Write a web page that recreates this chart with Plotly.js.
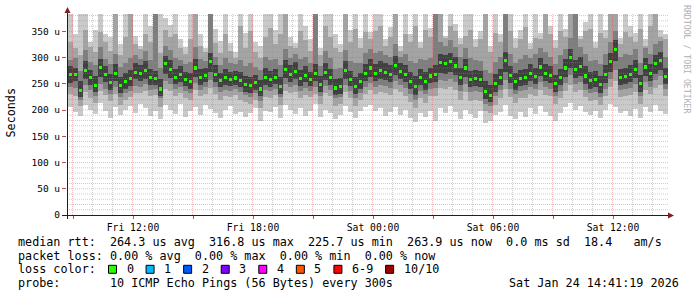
<!DOCTYPE html>
<html><head><meta charset="utf-8">
<script src="https://cdn.plot.ly/plotly-3.0.1.min.js"></script>
<style>html,body{margin:0;padding:0;background:#fff}#chart{width:697px;height:297px}</style>
</head><body><div id="chart"></div>
<script>
// ---- data ----
const startTime = Date.UTC(2026, 0, 23, 8, 45, 0);   // first consolidated step
const stepMinutes = 15;

const median = [267,268,238,276,262,247,281,268,252,270,247,254,260,272,270,275,262,260,240,288,
 278,262,268,258,255,280,262,266,293,268,256,262,258,261,256,248,246,252,240,262,
 258,262,245,278,268,274,260,266,258,270,248,272,262,242,245,275,258,245,255,270,
 280,270,275,272,268,285,273,268,255,245,262,255,265,268,290,288,292,284,262,280,
 258,260,258,236,228,250,262,294,266,254,260,262,270,264,282,270,266,250,262,280,
 300,278,283,265,256,258,248,268,292,316,262,264,268,278,250,282,270,288,295,264];

const pingMin = [205,196,188,210,200,192,214,198,185,206,190,200,208,195,212,203,188,198,182,210,
 200,192,212,186,198,205,190,210,202,194,184,200,208,192,196,186,194,204,180,198,
 196,206,184,210,200,192,204,188,198,212,186,200,194,182,190,208,196,184,198,205,
 210,198,204,188,196,206,190,200,185,178,194,186,198,180,204,194,208,196,182,200,
 192,184,198,176,180,190,196,210,188,182,196,186,204,192,208,196,188,180,194,206,
 214,200,208,196,190,198,184,200,212,206,194,198,188,202,184,206,196,210,198,192];

const pingMax = [390,345,390,390,330,352,390,345,340,390,326,390,390,342,322,390,360,390,390,375,
 362,390,336,320,390,390,344,318,390,355,332,390,328,310,390,346,390,330,322,390,
 390,352,390,390,340,328,390,360,335,390,318,390,390,344,326,390,352,390,338,390,
 348,390,390,336,358,390,322,390,345,390,330,390,356,390,390,342,390,364,338,390,
 390,336,350,390,322,390,345,390,390,338,352,390,328,390,346,390,360,334,390,355,
 390,390,342,368,390,330,390,352,390,390,338,390,360,346,390,335,390,390,352,345];

const ping2Lo = [230,226,208,234,222,214,236,228,218,230,210,220,224,232,232,236,226,228,206,240,
 236,226,232,222,220,238,226,230,242,230,220,226,224,228,220,216,212,220,204,224,
 222,228,210,236,232,234,222,228,224,230,212,232,226,208,212,234,222,208,220,230,
 238,230,234,232,228,240,234,226,216,204,222,214,226,226,242,240,244,238,220,234,
 218,220,218,198,194,210,222,240,224,214,222,222,230,226,238,228,226,212,222,236,
 248,234,238,224,218,220,210,226,244,256,224,226,228,234,212,238,230,242,248,226];

const ping2Hi = [330,318,305,352,320,310,348,330,312,390,305,340,390,325,316,345,330,390,308,352,
 340,345,318,306,335,390,322,310,390,328,308,345,312,300,360,318,350,310,300,340,
 356,326,345,390,322,318,350,334,312,390,305,360,340,318,310,390,330,355,318,348,
 336,350,360,322,340,390,312,345,330,360,318,352,340,390,390,338,360,350,325,342,
 352,320,335,390,310,346,330,390,350,318,336,358,316,338,335,390,345,318,350,340,
 390,390,335,350,355,318,346,338,390,390,325,348,340,330,355,322,360,390,340,336];

const ping3Lo = [244,242,220,248,238,226,250,240,230,244,224,232,236,246,244,250,238,240,222,256,
 250,240,244,236,232,252,238,244,258,244,234,238,236,240,234,228,224,232,218,238,
 236,240,224,250,244,248,236,242,236,244,226,246,238,222,224,248,236,222,232,244,
 252,244,248,246,242,256,248,242,230,220,236,230,240,242,258,256,260,254,236,250,
 234,236,234,212,208,226,238,258,240,230,236,238,244,240,254,244,240,226,236,252,
 266,250,254,238,232,234,224,240,260,276,238,240,242,250,226,254,244,258,264,240];

const ping3Hi = [296,300,275,315,292,285,320,298,288,306,282,290,300,304,298,312,296,390,280,322,
 315,300,296,288,292,320,298,294,390,302,286,300,290,288,296,284,290,282,276,302,
 296,298,286,316,300,306,298,302,290,390,284,312,300,278,280,314,294,290,290,308,
 316,308,312,304,302,326,302,306,294,290,298,296,300,390,330,322,334,320,302,318,
 300,296,294,276,270,292,302,390,306,290,298,304,300,306,318,310,302,288,304,316,
 338,390,320,306,294,296,288,306,330,350,302,306,304,316,290,318,306,326,332,302];

const ping4Lo = [252,255,225,259,247,235,263,253,239,255,233,241,245,259,255,259,247,247,227,269,
 261,249,253,245,241,263,247,253,273,253,243,247,245,247,243,235,233,239,227,247,
 243,249,231,261,253,259,245,253,245,255,235,257,247,229,231,259,245,231,241,255,
 263,255,259,257,253,267,259,253,241,229,247,239,251,253,271,269,273,267,247,263,
 243,245,243,221,215,235,247,273,251,239,245,247,255,249,265,255,251,235,247,263,
 281,261,265,249,241,243,233,251,273,293,247,249,253,261,235,265,255,269,277,249];

const ping4Hi = [283,281,255,293,277,265,297,283,269,287,263,271,277,289,285,293,279,275,259,303,
 295,279,283,273,271,297,279,281,309,285,271,279,273,275,273,265,263,267,257,281,
 275,279,263,295,285,291,277,283,273,287,265,289,279,259,261,293,275,263,271,287,
 297,287,293,289,285,303,289,285,273,265,279,273,281,285,307,305,309,301,281,297,
 275,277,275,255,247,269,279,311,283,271,277,279,287,281,299,287,283,267,279,297,
 317,295,301,283,273,275,265,285,309,333,279,281,285,295,267,299,287,305,311,281];

const tickTimes = ["2026-01-23 09:00","2026-01-23 12:00","2026-01-23 15:00","2026-01-23 18:00",
 "2026-01-23 21:00","2026-01-24 00:00","2026-01-24 03:00","2026-01-24 06:00",
 "2026-01-24 09:00","2026-01-24 12:00"];
const tickLabels = ["","Fri 12:00","","Fri 18:00","","Sat 00:00","","Sat 06:00","","Sat 12:00"];
const yTickVals = [0,50,100,150,200,250,300,350];
const yTickLabels = ["0","50 u","100 u","150 u","200 u","250 u","300 u","350 u"];

const lossLabels = ["0","1","2","3","4","5","6-9","10/10"];
const lossColors = ["#26ff00","#00b8ff","#0059ff","#7e00ff","#ff00ff","#ff5500","#ff0000","#a10000"];

const statLines = [
 "median rtt:  264.3 us avg  316.8 us max  225.7 us min  263.9 us now  0.0 ms sd  18.4   am/s",
 "packet loss: 0.00 % avg  0.00 % max  0.00 % min  0.00 % now",
 "loss color:",
 "probe:       10 ICMP Echo Pings (56 Bytes) every 300s"
];
const stampText = "Sat Jan 24 14:41:19 2026";
const watermark = "RRDTOOL / TOBI OETIKER";

// ---- layout helpers ----
const W = 697, H = 297, L = 67, R = 29, T = 14, B = 82;
const PW = W - L - R, PH = H - T - B;
const px2x = p => (p - L) / PW;
const py2y = p => (H - B - p) / PH;
const fmt = ms => new Date(ms).toISOString().replace('T',' ').slice(0,23);
const nb = s => s.replace(/ /g, '\u00a0');
const MONO = 'DejaVu Sans Mono, monospace';

const stepMs = stepMinutes * 60000;
const times = median.map((_, i) => fmt(startTime + (i + 0.5) * stepMs));

function band(lo, hi, color) {
  return {type:'bar', x: times, base: lo, y: hi.map((h,i) => h - lo[i]),
    width: stepMs * 1.04, marker:{color: color, line:{width:0}},
    hoverinfo:'skip', showlegend:false};
}
const medThick = 6;
const traces = [
  band(pingMin, pingMax, '#cacaca'),
  band(ping2Lo, ping2Hi, '#a4a4a4'),
  band(ping3Lo, ping3Hi, '#7e7e7e'),
  band(ping4Lo, ping4Hi, '#404040'),
  {type:'bar', x: times, base: median.map(v => v - medThick/2), y: median.map(() => medThick),
   width: stepMs * 0.7, marker:{color:'#26ff00', line:{width:0}}, hoverinfo:'skip', showlegend:false}
];

// ---- grid drawn above the smoke (as rrdtool does) ----
const shapes = [];
const gridMinor = 'rgba(143,143,143,0.45)', gridMajor = 'rgba(222,79,79,0.38)';
const halfPx = 90000; // half a pixel of time, keeps 1px dotted lines crisp
const xStart = Date.UTC(2026,0,23,9,0,0), xEnd = Date.UTC(2026,0,24,14,45,0);
for (let t = xStart; t <= xEnd; t += 3600000) {
  const major = (new Date(t).getUTCHours() % 3) === 0;
  shapes.push({type:'line', layer:'above', xref:'x', yref:'paper', x0: fmt(t - halfPx), x1: fmt(t - halfPx), y0:0, y1:1,
    line:{color: major ? gridMajor : gridMinor, width:1, dash:'1px,1px'}});
}
for (let v = 10; v <= 380; v += 10) {
  const major = v % 50 === 0;
  shapes.push({type:'line', layer:'above', xref:'paper', yref:'y', x0:0, x1:1, y0:v, y1:v,
    line:{color: major ? gridMajor : gridMinor, width:1, dash:'1px,1px'}});
}
// axes lines and arrows
shapes.push({type:'line', layer:'above', xref:'paper', yref:'paper', x0:px2x(67.5), x1:px2x(67.5), y0:py2y(219), y1:py2y(11),
  line:{color:'#1f1f1f', width:1}});
shapes.push({type:'line', layer:'above', xref:'paper', yref:'paper', x0:px2x(62), x1:1, y0:py2y(215.5), y1:py2y(215.5),
  line:{color:'#1f1f1f', width:1}});
shapes.push({type:'path', layer:'above', xref:'paper', yref:'paper',
  path:`M ${px2x(64.5)} ${py2y(13)} L ${px2x(70.5)} ${py2y(13)} L ${px2x(67.5)} ${py2y(7)} Z`,
  fillcolor:'#801f1f', line:{width:0}});
shapes.push({type:'path', layer:'above', xref:'paper', yref:'paper',
  path:`M ${px2x(668)} ${py2y(212.5)} L ${px2x(668)} ${py2y(218.5)} L ${px2x(674)} ${py2y(215.5)} Z`,
  fillcolor:'#801f1f', line:{width:0}});

// ---- legend / text block ----
const rowY = [241.7, 255.7, 269.3, 283.3];
const annotations = [];
statLines.forEach((s, i) => annotations.push({xref:'paper', yref:'paper', x: px2x(16), y: py2y(rowY[i]),
  xanchor:'left', yanchor:'middle', showarrow:false, text: nb(s), font:{family:MONO, size:11.75, color:'#000'}}));
annotations.push({xref:'paper', yref:'paper', x: px2x(681), y: py2y(rowY[3]), xanchor:'right', yanchor:'middle',
  showarrow:false, text: nb(stampText), font:{family:MONO, size:11.75, color:'#000'}});
let bx = 108;
const charW = 7.07;
lossLabels.forEach((lab, i) => {
  shapes.push({type:'rect', xref:'paper', yref:'paper', x0: px2x(bx + 0.5), x1: px2x(bx + 8.5),
    y0: py2y(rowY[2] + 4), y1: py2y(rowY[2] - 4), fillcolor: lossColors[i], line:{color:'#000', width:1}});
  annotations.push({xref:'paper', yref:'paper', x: px2x(bx + 16.5), y: py2y(rowY[2]), xanchor:'left', yanchor:'middle',
    showarrow:false, text: lab, font:{family:MONO, size:11.75, color:'#000'}});
  bx = bx + 16.5 + charW * lab.length + 14;
});
annotations.push({xref:'paper', yref:'paper', x: px2x(10.5), y: py2y(113), xanchor:'center', yanchor:'middle',
  showarrow:false, textangle:-90, text:'Seconds', font:{family:MONO, size:11.75, color:'#000'}});
annotations.push({xref:'paper', yref:'paper', x: px2x(687), y: py2y(59), xanchor:'center', yanchor:'middle',
  showarrow:false, textangle:90, text: nb(watermark), font:{family:MONO, size:8.2, color:'#b0b0b0'}});

const layout = {
  width: W, height: H, margin:{l:L, r:R, t:T, b:B, pad:0},
  paper_bgcolor:'#fff', plot_bgcolor:'#fff',
  barmode:'overlay', bargap:0, hovermode:false, showlegend:false,
  xaxis:{type:'date', range:["2026-01-23 08:42:00","2026-01-24 14:45:00"], fixedrange:true,
    tickmode:'array', tickvals: tickTimes, ticktext: tickLabels, showgrid:false, zeroline:false,
    showline:false, ticks:'outside', ticklen:3, tickcolor:'#c05050',
    tickfont:{family:MONO, size:9.7, color:'#000'}},
  yaxis:{range:[0,383], fixedrange:true, tickmode:'array', tickvals: yTickVals, ticktext: yTickLabels,
    showgrid:false, zeroline:false, showline:false, ticks:'outside', ticklen:4, tickcolor:'#c05050',
    tickfont:{family:MONO, size:9.5, color:'#000'}},
  shapes: shapes, annotations: annotations
};
Plotly.newPlot('chart', traces, layout, {staticPlot:true, displayModeBar:false});
</script></body></html>
